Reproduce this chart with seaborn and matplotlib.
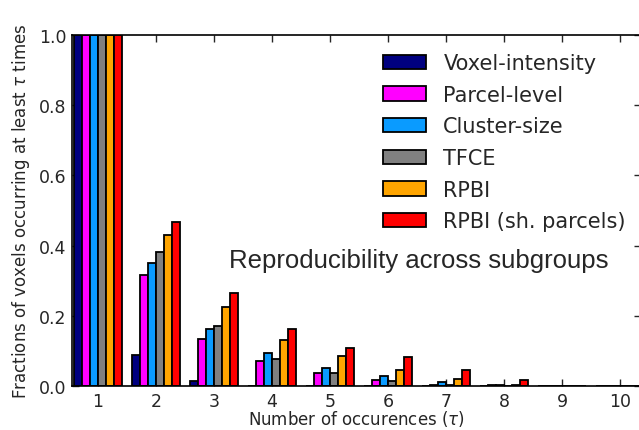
import matplotlib
matplotlib.use("Agg")
import matplotlib.pyplot as plt
import seaborn as sns
import pandas as pd

# Fraction of voxels detected at least tau times, per inference method
occurrences = ["1", "2", "3", "4", "5", "6", "7", "8", "9", "10"]
methods = ["Voxel-intensity", "Parcel-level", "Cluster-size", "TFCE", "RPBI",
           "RPBI (sh. parcels)"]
voxel_intensity = [1.0, 0.088, 0.015, 0.0, 0.0, 0.0, 0.0, 0.0, 0.0, 0.0]
parcel_level = [1.0, 0.316, 0.135, 0.071, 0.038, 0.018, 0.004, 0.002, 0.0, 0.0]
cluster_size = [1.0, 0.350, 0.161, 0.093, 0.050, 0.029, 0.012, 0.003, 0.0, 0.0]
tfce = [1.0, 0.381, 0.171, 0.076, 0.037, 0.014, 0.002, 0.0, 0.0, 0.0]
rpbi = [1.0, 0.430, 0.226, 0.130, 0.086, 0.046, 0.019, 0.003, 0.0, 0.0]
rpbi_shared = [1.0, 0.467, 0.264, 0.161, 0.108, 0.082, 0.046, 0.016, 0.0, 0.0]
colors = ["#000080", "#ff00ff", "#0a9bff", "#808080", "#ffa500", "#ff0000"]

series = [voxel_intensity, parcel_level, cluster_size, tfce, rpbi, rpbi_shared]
df = pd.DataFrame({
    "tau": [t for _ in methods for t in occurrences],
    "method": [m for m in methods for _ in occurrences],
    "fraction": [v for s in series for v in s],
})

sns.set_style("ticks")
plt.rcParams["font.family"] = ["DejaVu Sans"]
plt.rcParams["mathtext.fontset"] = "dejavusans"

fig = plt.figure(figsize=(6.39, 4.31), dpi=100)
ax = fig.add_axes([72 / 639, 1 - 387 / 431, 569 / 639, 351 / 431])

sns.barplot(data=df, x="tau", y="fraction", hue="method", order=occurrences,
            hue_order=methods, palette=colors, saturation=1, width=0.84,
            errorbar=None, edgecolor="black", linewidth=1.3, ax=ax)

ax.set_xlim(-0.45, 9.36)
ax.set_ylim(0, 1.0)
ax.set_yticks([0.0, 0.2, 0.4, 0.6, 0.8, 1.0])
ax.set_yticklabels(["0.0", "0.2", "0.4", "0.6", "0.8", "1.0"])
ax.tick_params(direction="in", top=True, right=True, length=5, width=1,
               labelsize=12.5)
ax.tick_params(axis="x", pad=4)
ax.tick_params(axis="y", pad=4)
for sp in ax.spines.values():
    sp.set_visible(True)
    sp.set_linewidth(1.2)
    sp.set_color("black")

ax.set_xlabel(r"Number of occurences ($\tau$)", fontsize=12, labelpad=-1)
ax.set_ylabel(r"Fractions of voxels occurring at least $\tau$ times", fontsize=12,
              labelpad=5)

leg = ax.legend(loc="upper right", bbox_to_anchor=(0.999, 0.99), frameon=False,
                fontsize=15, handlelength=2.05, handleheight=0.7,
                labelspacing=0.56, handletextpad=0.85, borderaxespad=0.3)

ax.text(0.61, 0.36, "Reproducibility across subgroups", transform=ax.transAxes,
        ha="center", va="center", fontsize=18.5, family="Liberation Sans")

fig.savefig("out.png", dpi=100)
